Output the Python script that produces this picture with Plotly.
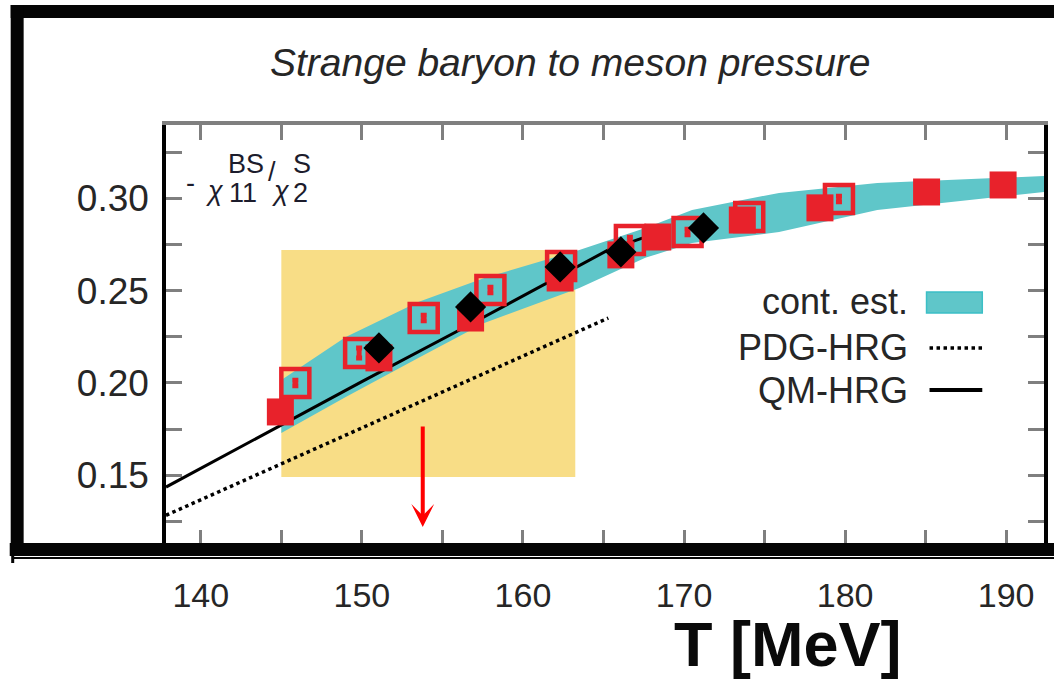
import plotly.graph_objects as go

# ---------------- data ----------------
T_filled = [144.94, 151.06, 156.75, 162.31, 166.08, 168.37, 173.62, 178.44, 185.06, 189.81]
chi_filled = [0.1843, 0.2136, 0.2352, 0.2569, 0.2694, 0.2791, 0.2883, 0.2949, 0.3035, 0.3073]

T_open = [145.87, 149.83, 153.84, 157.98, 162.37, 166.64, 170.22, 174.05, 179.62]
chi_open = [0.2000, 0.2163, 0.2352, 0.2504, 0.2634, 0.2775, 0.2818, 0.2900, 0.2997]
err_open = [0.0015, 0.0027, 0.0015, 0.0015, 0.0015, 0.0015, 0.0015, 0.0015, 0.0015]

T_diam = [151.06, 156.75, 162.31, 166.08, 171.21]
chi_diam = [0.2190, 0.2412, 0.2629, 0.2710, 0.2840]

T_band = [145.0, 149.0, 153.5, 157.6, 163.5, 167.6, 170.5, 175.9, 182.0, 192.4]
band_lo = [0.1729, 0.1924, 0.2135, 0.2325, 0.2515, 0.2678, 0.2759, 0.2818, 0.2938, 0.3035]
band_hi = [0.2016, 0.2249, 0.2439, 0.2569, 0.2721, 0.2840, 0.2938, 0.3030, 0.3084, 0.3122]

T_qm = [137.84, 143.03, 150.0, 156.8, 162.3, 165.3, 167.5]
chi_qm = [0.1436, 0.1680, 0.2007, 0.2321, 0.2582, 0.2721, 0.2788]

T_pdg = [137.84, 143.03, 150.0, 157.0, 165.3]
chi_pdg = [0.1283, 0.1485, 0.1757, 0.2030, 0.2352]

rect_T = [145.0, 163.25]
rect_chi = [0.1491, 0.2721]

arrow_T = 153.78
arrow_chi = [0.1772, 0.1220]  # tail, tip

x_tickvals = [140, 145, 150, 155, 160, 165, 170, 175, 180, 185, 190]
x_ticktext = ["140", "", "150", "", "160", "", "170", "", "180", "", "190"]
y_tickvals = [0.125, 0.15, 0.175, 0.20, 0.225, 0.25, 0.275, 0.30, 0.325]
y_ticktext = ["", "0.15", "", "0.20", "", "0.25", "", "0.30", ""]

legend_labels = ["cont. est.", "PDG-HRG", "QM-HRG"]

# ---------------- layout geometry ----------------
W, H = 1054, 679
L, R, T, B = 166, 6, 125, 134
PW, PH = W - L - R, H - T - B


def px(x):
    return (x - L) / PW


def py(y):
    return (H - B - y) / PH


RED = "#E8222B"
CYAN = "#5FC6C9"
FONT = "Liberation Sans, Arial, sans-serif"
TXT = "#262626"

fig = go.Figure()

# continuum band
fig.add_trace(go.Scatter(x=T_band, y=band_lo, mode="lines", line=dict(width=0, color=CYAN),
                         showlegend=False, hoverinfo="skip"))
fig.add_trace(go.Scatter(x=T_band, y=band_hi, mode="lines", line=dict(width=0, color=CYAN),
                         fill="tonexty", fillcolor=CYAN, showlegend=False, hoverinfo="skip"))
# HRG lines
fig.add_trace(go.Scatter(x=T_pdg, y=chi_pdg, mode="lines",
                         line=dict(color="black", width=3.5, dash="dot"), showlegend=False))
fig.add_trace(go.Scatter(x=T_qm, y=chi_qm, mode="lines",
                         line=dict(color="black", width=3), showlegend=False))
# open squares with small error bars
fig.add_trace(go.Scatter(x=T_open, y=chi_open, mode="markers",
                         marker=dict(symbol="square-open", size=28, color=RED, line=dict(width=4.5, color=RED)),
                         error_y=dict(type="data", array=err_open, color=RED, thickness=5, width=3),
                         showlegend=False))
# filled squares
fig.add_trace(go.Scatter(x=T_filled, y=chi_filled, mode="markers",
                         marker=dict(symbol="square", size=27, color=RED, line=dict(width=0)),
                         showlegend=False))
# black diamonds
fig.add_trace(go.Scatter(x=T_diam, y=chi_diam, mode="markers",
                         marker=dict(symbol="diamond", size=24, color="black", line=dict(width=0)),
                         showlegend=False))

shapes = []
# yellow region
shapes.append(dict(type="rect", xref="x", yref="y", x0=rect_T[0], x1=rect_T[1],
                   y0=rect_chi[0], y1=rect_chi[1], fillcolor="rgb(248,221,134)",
                   line=dict(width=0), layer="below"))
# thick frame
BLK = "#050505"
shapes.append(dict(type="rect", xref="paper", yref="paper", x0=px(10), x1=px(1060),
                   y0=py(18), y1=py(5), fillcolor=BLK, line=dict(width=0), layer="above"))
shapes.append(dict(type="rect", xref="paper", yref="paper", x0=px(10), x1=px(23),
                   y0=py(556), y1=py(5), fillcolor=BLK, line=dict(width=0), layer="above"))
shapes.append(dict(type="rect", xref="paper", yref="paper", x0=px(9), x1=px(1060),
                   y0=py(556), y1=py(543), fillcolor=BLK, line=dict(width=0), layer="above"))
shapes.append(dict(type="line", xref="paper", yref="paper", x0=px(13), x1=px(1060),
                   y0=py(558), y1=py(558), line=dict(color=BLK, width=2), layer="above"))
shapes.append(dict(type="line", xref="paper", yref="paper", x0=px(12), x1=px(12),
                   y0=py(556), y1=py(563), line=dict(color=BLK, width=3), layer="above"))
# legend samples
shapes.append(dict(type="rect", xref="paper", yref="paper", x0=px(930), x1=px(986),
                   y0=py(313), y1=py(292), fillcolor=CYAN, line=dict(color="#3BBFC6", width=1.5)))
shapes.append(dict(type="line", xref="paper", yref="paper", x0=px(933), x1=px(986),
                   y0=py(348), y1=py(348), line=dict(color="black", width=3.5, dash="dot")))
shapes.append(dict(type="line", xref="paper", yref="paper", x0=px(933), x1=px(986),
                   y0=py(390), y1=py(390), line=dict(color="black", width=4)))

ann = []
# title
ann.append(dict(text="<i>Strange baryon to meson pressure</i>", xref="paper", yref="paper",
                x=px(572), y=py(62), xanchor="center", yanchor="middle", showarrow=False,
                font=dict(family=FONT, size=39, color=TXT)))
# x-axis title
ann.append(dict(text="<b>T [MeV]</b>", xref="paper", yref="paper",
                x=px(790), y=py(644), xanchor="center", yanchor="middle", showarrow=False,
                font=dict(family=FONT, size=63, color="#0a0a0a")))
# legend texts
for lab, yy in zip(legend_labels, [301, 347, 390]):
    ann.append(dict(text=lab, xref="paper", yref="paper", x=px(913), y=py(yy),
                    xanchor="right", yanchor="middle", showarrow=False,
                    font=dict(family=FONT, size=36, color=TXT)))
# observable label  - chi_11^BS / chi_2^S
lab_font = dict(family=FONT, size=27, color="#1c1c2c")
for txt, xx, yy in [("-", 184, 183), ("<i>χ</i>", 204, 191), ("11", 227, 193), ("BS", 226, 164),
                    ("/", 266, 172), ("<i>χ</i>", 270, 191), ("2", 292, 193), ("S", 292, 164)]:
    ann.append(dict(text=txt, xref="paper", yref="paper", x=px(xx), y=py(yy),
                    xanchor="left", yanchor="middle", showarrow=False, font=lab_font))
# red arrow
ann.append(dict(x=arrow_T, y=arrow_chi[1], ax=arrow_T, ay=arrow_chi[0], xref="x", yref="y",
                axref="x", ayref="y", showarrow=True, arrowhead=3, arrowsize=0.95,
                arrowwidth=4, arrowcolor="#FF0000", text=""))

fig.update_layout(
    width=W, height=H,
    margin=dict(l=L, r=R, t=T, b=B, pad=0),
    paper_bgcolor="white", plot_bgcolor="white",
    showlegend=False,
    shapes=shapes, annotations=ann,
    xaxis=dict(range=[137.84, 192.35], tickmode="array", tickvals=x_tickvals, ticktext=x_ticktext,
               ticks="inside", ticklen=15, tickwidth=3, tickcolor="#7f7f7f",
               showline=True, linecolor="#7f7f7f", linewidth=4, mirror="ticks",
               showgrid=False, zeroline=False, ticklabelstandoff=17,
               tickfont=dict(family=FONT, size=34, color=TXT)),
    yaxis=dict(range=[0.1122, 0.3398], tickmode="array", tickvals=y_tickvals, ticktext=y_ticktext,
               ticks="inside", ticklen=16, tickwidth=3, tickcolor="#7f7f7f",
               showline=True, linecolor="black", linewidth=3.5, mirror="ticks",
               showgrid=False, zeroline=False, ticklabelstandoff=6,
               tickfont=dict(family=FONT, size=37, color=TXT)),
)

fig.write_html("out.html")
